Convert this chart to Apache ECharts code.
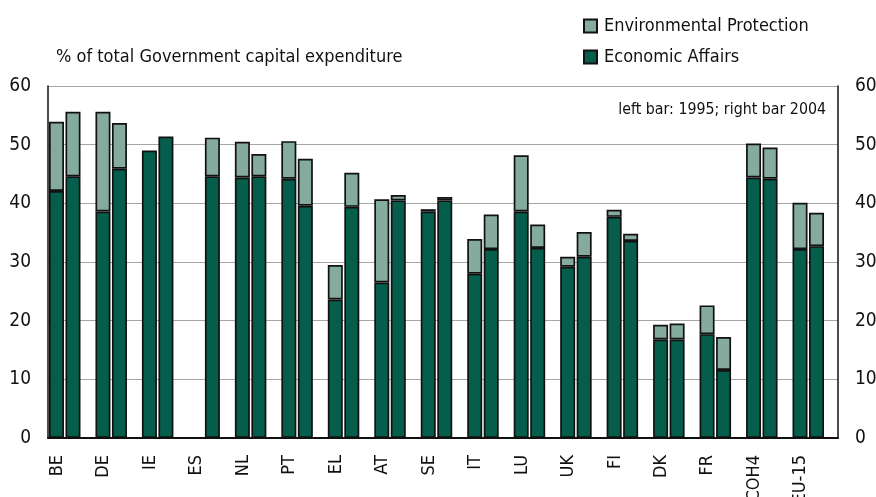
<!DOCTYPE html>
<html>
<head>
<meta charset="utf-8">
<script src="https://cdn.jsdelivr.net/npm/echarts@6/dist/echarts.min.js"></script>
<style>
  html, body { margin: 0; padding: 0; background: #fff; }
  #chart { width: 876px; height: 497px; }
</style>
</head>
<body>
<div id="chart"></div>
<script>
// Country codes along the horizontal axis
const countries = ['BE', 'DE', 'IE', 'ES', 'NL', 'PT', 'EL', 'AT', 'SE', 'IT', 'LU', 'UK', 'FI', 'DK', 'FR', 'COH4', 'EU-15'];

// Economic affairs share (% of total government capital expenditure)
const econ1995 = [42.1, 38.6, 49.0, null, 44.4, 44.2, 23.6, 26.5, 38.6, 28.0, 38.6, 29.2, 37.7, 16.8, 17.7, 44.4, 32.2];
const econ2004 = [44.6, 45.9, 51.4, 44.6, 44.6, 39.6, 39.4, 40.5, 40.5, 32.2, 32.4, 30.9, 33.6, 16.8, 11.6, 44.2, 32.7];

// Environmental protection share stacked on top
const env1995 = [11.8, 17.0, null, null, 6.1, 6.4, 5.9, 14.2, 0.4, 5.9, 9.6, 1.7, 1.2, 2.5, 4.9, 5.8, 7.9];
const env2004 = [11.0, 7.8, null, 6.6, 3.8, 8.0, 5.8, 0.9, 0.6, 5.9, 4.0, 4.2, 1.2, 2.7, 5.6, 5.3, 5.7];

// Axis tick labels
const yTicks = [0, 10, 20, 30, 40, 50, 60];

const DARK = '#055e4b';
const LIGHT = '#84ab9e';
const FONT = "'Liberation Sans Narrow', 'Arial Narrow', 'DejaVu Sans Condensed', sans-serif";

const chart = echarts.init(document.getElementById('chart'));

const border = { borderColor: '#111', borderWidth: 1.7 };

function barSeries(name, stack, data, color) {
  return {
    name: name,
    type: 'bar',
    stack: stack,
    data: data,
    barWidth: 15,
    barGap: '10%',
    itemStyle: Object.assign({ color: color }, border),
    emphasis: { disabled: true },
    animation: false
  };
}

const yAxisBase = {
  type: 'value',
  min: yTicks[0],
  max: yTicks[yTicks.length - 1],
  interval: 10,
  axisLine: { show: true, lineStyle: { color: '#111', width: 1.5 } },
  axisTick: { show: false },
  splitLine: { show: true, lineStyle: { color: '#a6a6a6', width: 1.2 } },
  axisLabel: { color: '#111', fontSize: 19, fontFamily: FONT, margin: 17 }
};

chart.setOption({
  animation: false,
  title: [
    {
      text: '% of total Government capital expenditure',
      left: 56, top: 48, padding: 0,
      textStyle: { fontSize: 18, fontWeight: 'normal', color: '#111', fontFamily: FONT }
    },
    {
      text: 'left bar: 1995; right bar 2004',
      right: 50, top: 102, padding: 0,
      textStyle: { fontSize: 15.8, fontWeight: 'normal', color: '#111', fontFamily: FONT }
    }
  ],
  legend: {
    data: ['Environmental Protection', 'Economic Affairs'],
    orient: 'vertical',
    left: 583, top: 17,
    padding: 0,
    itemWidth: 13, itemHeight: 13,
    itemGap: 13,
    icon: 'rect',
    selectedMode: false,
    textStyle: { fontSize: 18, color: '#111', fontFamily: FONT, padding: [0, 0, 0, 2] }
  },
  grid: {
    left: 48, right: 38, top: 86, bottom: 59,
    containLabel: false,
    outerBoundsMode: 'none'
  },
  xAxis: {
    type: 'category',
    data: countries,
    axisLine: { show: true, lineStyle: { color: '#111', width: 2 } },
    axisTick: { show: false },
    axisLabel: {
      rotate: 90,
      interval: 0,
      margin: 17,
      color: '#111',
      fontSize: 18,
      fontFamily: FONT,
      // an empty second line pushes each code toward the left bar of its pair
      formatter: function (v) { return '{t|' + v + '}\n{g|}'; },
      rich: {
        t: { fontSize: 18, fontFamily: FONT, color: '#111', lineHeight: 22 },
        g: { lineHeight: 28, height: 28 }
      }
    }
  },
  yAxis: [
    Object.assign({}, yAxisBase, { position: 'left' }),
    Object.assign({}, yAxisBase, { position: 'right', splitLine: { show: false } })
  ],
  series: [
    barSeries('Economic Affairs', 'y1995', econ1995, DARK),
    barSeries('Environmental Protection', 'y1995', env1995, LIGHT),
    barSeries('Economic Affairs', 'y2004', econ2004, DARK),
    barSeries('Environmental Protection', 'y2004', env2004, LIGHT),
    // empty slot keeping each pair on the left side of its category
    {
      type: 'bar', stack: 'spacer', barWidth: 11.5,
      data: countries.map(() => null), silent: true, animation: false
    }
  ]
});
</script>
</body>
</html>
